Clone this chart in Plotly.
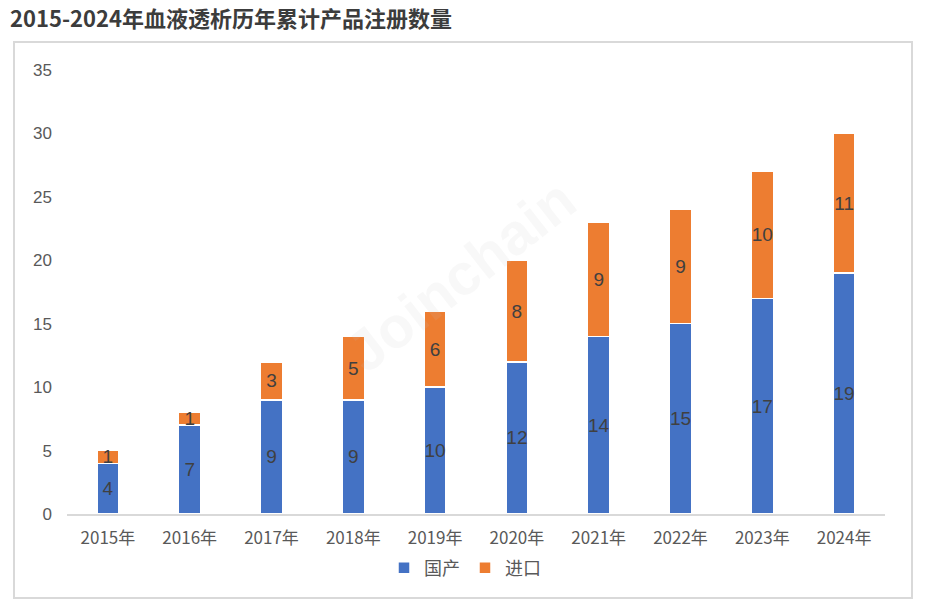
import plotly.graph_objects as go

years = ["2015年", "2016年", "2017年", "2018年", "2019年", "2020年", "2021年", "2022年", "2023年", "2024年"]
domestic = [4, 7, 9, 9, 10, 12, 14, 15, 17, 19]
imported = [1, 1, 3, 5, 6, 8, 9, 9, 10, 11]
series_names = ["国产", "进口"]
y_ticks = [0, 5, 10, 15, 20, 25, 30, 35]

W, H = 931, 605
L, R, T, B = 67, 885, 70, 514

FONT = "Noto Sans CJK SC, Liberation Sans, sans-serif"
label_font = dict(family="Liberation Sans, sans-serif", size=19, color="#404040")

fig = go.Figure()
fig.add_trace(go.Bar(
    x=years, y=domestic, name=series_names[0],
    marker=dict(color="#4472C4", line=dict(color="white", width=1.5)),
    text=domestic, textposition="inside", insidetextanchor="middle",
    constraintext="none", textfont=label_font, textangle=0,
))
fig.add_trace(go.Bar(
    x=years, y=imported, name=series_names[1],
    marker=dict(color="#ED7D31", line=dict(color="white", width=1.5)),
    text=imported, textposition="inside", insidetextanchor="middle",
    constraintext="none", textfont=label_font, textangle=0,
))

pw = R - L
ph = B - T
def px(x):
    return (x - L) / pw
def py(y):
    return (B - y) / ph

fig.update_layout(
    width=W, height=H,
    margin=dict(l=L, r=W - R, t=T, b=H - B, autoexpand=False),
    paper_bgcolor="white", plot_bgcolor="white",
    barmode="stack", bargap=0.73,
    title=dict(text="<b>2015-2024年血液透析历年累计产品注册数量</b>",
               x=10 / W, xref="container", xanchor="left",
               y=1 - 19 / H, yref="container", yanchor="middle",
               font=dict(family=FONT, size=22, color="#3c3c3c")),
    xaxis=dict(showgrid=False, showline=True, linecolor="#d9d9d9", linewidth=1.5,
               ticks="", ticklabelstandoff=8,
               tickfont=dict(family=FONT, size=17, color="#595959")),
    yaxis=dict(range=[0, 35], tickvals=y_ticks, showgrid=False, zeroline=False,
               showline=False, ticks="", ticklabelstandoff=14,
               tickfont=dict(family="Liberation Sans, sans-serif", size=17, color="#595959")),
    legend=dict(orientation="h", x=px(465), xanchor="center", y=py(568), yanchor="middle",
                font=dict(family=FONT, size=18, color="#595959"),
                itemwidth=30, traceorder="normal"),
    showlegend=True,
    shapes=[dict(type="rect", xref="paper", yref="paper",
                 x0=px(14), x1=px(912), y0=py(598), y1=py(42),
                 line=dict(color="#d9d9d9", width=2), layer="below")],
    annotations=[dict(text="<b>Joinchain</b>", xref="paper", yref="paper",
                      x=px(460), y=py(275), showarrow=False, textangle=-38,
                      font=dict(family="Liberation Sans, sans-serif", size=58,
                                color="rgba(200,200,200,0.12)"))],
)

fig.write_html("out.html",
               config={"displayModeBar": False},
               post_script="document.body.style.margin='0';document.body.style.overflow='hidden';")
